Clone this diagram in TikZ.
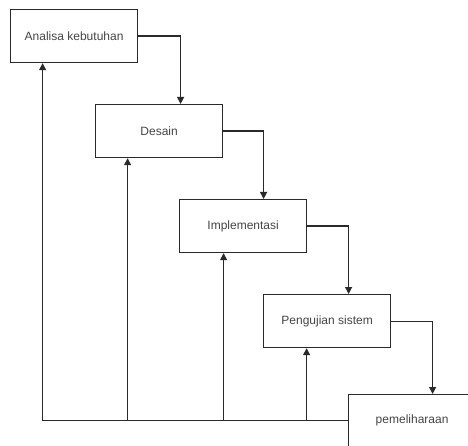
\documentclass[tikz,border=0pt]{standalone}
\usepackage{fontspec}
\setmainfont{Liberation Sans}
\usetikzlibrary{arrows.meta}
\definecolor{ln}{HTML}{2A2A2A}
\definecolor{tx}{HTML}{444444}
\tikzset{
  stage/.style={draw=ln, line width=1.2pt, minimum width=127pt, minimum height=53pt, anchor=north west, inner sep=0pt, text=tx, font=\fontsize{12pt}{14pt}\selectfont},
  flow/.style={draw=ln, line width=1.2pt, -{Triangle[width=7pt,length=7pt]}}
}
\begin{document}
\begin{tikzpicture}[x=1pt,y=-1pt]
\useasboundingbox (0,0) rectangle (468,446);
\clip (0,0) rectangle (468,446);
\node[stage] (a) at (10,9) {Analisa kebutuhan};
\node[stage] (b) at (95,104) {Desain};
\node[stage] (c) at (179,199) {Implementasi};
\node[stage] (d) at (263,294) {Pengujian sistem};
\node[stage, minimum height=52pt] (e) at (348,394) {pemeliharaan};
\draw[flow] (a.east) -| ([xshift=21.5pt]b.north);
\draw[flow] (b.east) -| ([xshift=20.5pt]c.north);
\draw[flow] (c.east) -| ([xshift=21.5pt]d.north);
\draw[flow] (d.east) -| ([xshift=20.5pt]e.north);
\draw[flow] (e.west) -| ([xshift=-31.5pt]a.south);
\draw[flow] (e.west) -| ([xshift=-31.5pt]b.south);
\draw[flow] (e.west) -| ([xshift=-19.5pt]c.south);
\draw[flow] (e.west) -| ([xshift=-20.5pt]d.south);
\end{tikzpicture}
\end{document}
